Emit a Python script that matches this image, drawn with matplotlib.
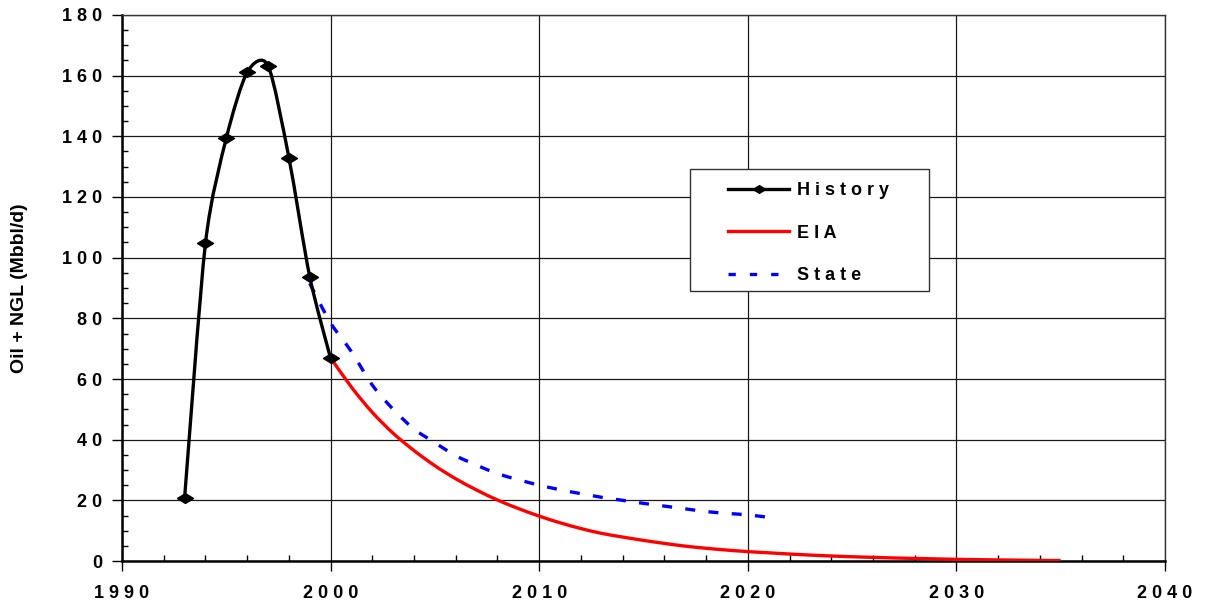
import numpy as np
import matplotlib
matplotlib.use("Agg")
import matplotlib.pyplot as plt
from matplotlib.path import Path
from matplotlib.patches import PathPatch, Rectangle
from matplotlib.lines import Line2D
from matplotlib.ticker import FixedLocator, MultipleLocator, FuncFormatter

# ---------------- data ----------------
history_years = [1993, 1994, 1995, 1996, 1997, 1998, 1999, 2000]
history_vals = [20.7, 104.7, 139.4, 161.1, 163.3, 133.0, 93.7, 66.8]

eia_years = list(range(2000, 2036))
eia_vals = [67.0, 57.3, 49.0, 42.1, 36.4, 31.4, 27.1, 23.4, 20.1, 17.3,
            14.8, 12.6, 10.7, 9.1, 7.9, 6.8, 5.8, 4.9, 4.2, 3.6,
            3.1, 2.7, 2.3, 1.95, 1.65, 1.4, 1.2, 1.0, 0.85, 0.7,
            0.55, 0.45, 0.35, 0.28, 0.2, 0.15]

state_years = list(range(1999, 2022))
state_vals = [91.5, 78.5, 69.0, 58.0, 50.0, 43.5, 39.0, 34.7, 31.6, 28.8,
              26.8, 25.0, 23.5, 22.2, 21.0, 20.0, 19.0, 18.1, 17.2, 16.3,
              15.7, 15.2, 14.4]

x_ticks = [1990, 2000, 2010, 2020, 2030, 2040]
y_ticks = [0, 20, 40, 60, 80, 100, 120, 140, 160, 180]
series_names = ["History", "EIA", "State"]
y_label = "Oil + NGL (Mbbl/d)"

# ---------------- figure ----------------
plt.rcParams['font.family'] = ['Liberation Sans', 'DejaVu Sans']
fig = plt.figure(figsize=(12.05, 6.03), dpi=100)
W, H = 1205, 603
ax = fig.add_axes([122 / W, (H - 561) / H, (1165 - 122) / W, (561 - 15) / H])
ax.set_xlim(1990, 2040)
ax.set_ylim(0, 180)

# grid
ax.xaxis.set_major_locator(FixedLocator(x_ticks))
ax.yaxis.set_major_locator(FixedLocator(y_ticks))
ax.xaxis.set_minor_locator(MultipleLocator(2))
ax.yaxis.set_minor_locator(MultipleLocator(5))
ax.grid(True, which='major', color='#1a1a1a', linewidth=0.9)
ax.set_axisbelow(True)

def spaced(v, pos):
    return " ".join(str(int(round(v))))

ax.xaxis.set_major_formatter(FuncFormatter(spaced))
ax.yaxis.set_major_formatter(FuncFormatter(spaced))
ax.tick_params(axis='both', which='major', direction='out', length=7, width=1,
               labelsize=13)
ax.tick_params(axis='x', which='major', pad=10)
ax.tick_params(axis='y', which='major', pad=7)
ax.tick_params(axis='both', which='minor', direction='in', length=4, width=1)
for lab in ax.get_xticklabels() + ax.get_yticklabels():
    lab.set_fontweight('bold')

for s in ['left', 'bottom']:
    ax.spines[s].set_linewidth(1.8)
for s in ['top', 'right']:
    ax.spines[s].set_linewidth(1.0)
    ax.spines[s].set_color('#333333')

ax.set_ylabel(y_label, fontsize=14, fontweight='bold')
ax.yaxis.set_label_coords(-(122 - 28) / (1165 - 122), 0.5)


def smooth_path(xs, ys, k=6.5):
    pts = np.column_stack([xs, ys]).astype(float)
    n = len(pts)
    verts = [tuple(pts[0])]
    codes = [Path.MOVETO]
    for i in range(n - 1):
        p0 = pts[max(i - 1, 0)]
        p1 = pts[i]
        p2 = pts[i + 1]
        p3 = pts[min(i + 2, n - 1)]
        c1 = p1 + (p2 - p0) / k
        c2 = p2 - (p3 - p1) / k
        verts += [tuple(c1), tuple(c2), tuple(p2)]
        codes += [Path.CURVE4] * 3
    return Path(verts, codes)


# ---------------- series ----------------
ax.add_patch(PathPatch(smooth_path(eia_years, eia_vals), fill=False,
                       edgecolor='#ff0000', linewidth=2.4, zorder=3,
                       capstyle='butt'))
ax.add_patch(PathPatch(smooth_path(state_years, state_vals), fill=False,
                       edgecolor='#0000ff', linewidth=2.4, zorder=3,
                       linestyle=(0, (3.0, 4.0)), capstyle='butt'))
ax.add_patch(PathPatch(smooth_path(history_years, history_vals, k=7.5), fill=False,
                       edgecolor='black', linewidth=2.4, zorder=4,
                       capstyle='round'))

diamond = [(-1, 0), (0, 0.62), (1, 0), (0, -0.62), (-1, 0)]
ax.plot(history_years, history_vals, linestyle='none', marker=diamond,
        markersize=11.5, color='black', zorder=5)

# ---------------- legend ----------------
fig.add_artist(Rectangle((690 / W, (H - 291) / H), (929 - 690) / W, (291 - 169) / H,
                         transform=fig.transFigure, facecolor='white',
                         edgecolor='#333333', linewidth=1.0, zorder=10))
handles = [
    Line2D([], [], color='black', linewidth=2.4, marker=diamond, markersize=9),
    Line2D([], [], color='#ff0000', linewidth=2.4),
    Line2D([], [], color='#0000ff', linewidth=2.4, dashes=(2.2, 4.2)),
]
leg = fig.legend(handles, [" ".join(s) for s in series_names],
                 loc='upper left', bbox_to_anchor=(728 / W, (H - 182) / H),
                 frameon=False, handlelength=3.4, handletextpad=0.4,
                 labelspacing=1.42, borderpad=0, borderaxespad=0,
                 prop={'size': 13, 'weight': 'bold'})
leg.set_zorder(11)

fig.savefig("out.png", dpi=100, facecolor='white')
